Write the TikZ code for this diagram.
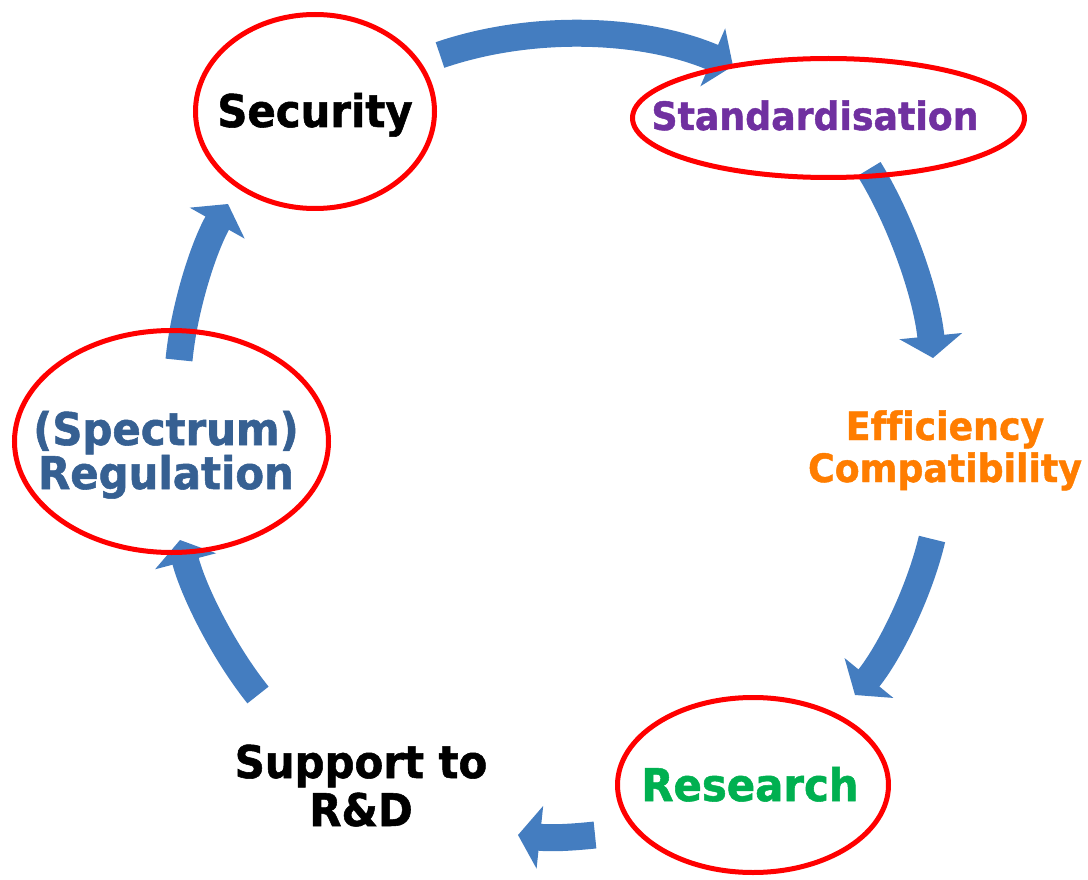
\documentclass[tikz,border=0pt]{standalone}
\usepackage{fontspec}
\setmainfont{DejaVu Sans}[FakeStretch=0.93, Ligatures=NoCommon, BoldFeatures={FakeBold=1.2}]
\usetikzlibrary{shapes.geometric, arrows.meta}

\definecolor{flowblue}{RGB}{68,125,192}
\definecolor{stdpurple}{RGB}{112,48,160}
\definecolor{efforange}{RGB}{255,125,0}
\definecolor{resgreen}{RGB}{0,176,80}
\definecolor{regblue}{RGB}{54,96,146}

\begin{document}
\begin{tikzpicture}[
        x=1pt,
        y=1pt,
        flow/.style={draw=flowblue, line width=27pt, -{Triangle[width=62pt, length=22pt]}},
        ring/.style={ellipse, draw=red, line width=5pt, inner sep=0pt},
        lbl/.style={font=\bfseries\fontsize{45}{44}\selectfont, align=center, anchor=base},
        lblsmall/.style={lbl, font=\bfseries\fontsize{39}{42}\selectfont}
    ]
    \useasboundingbox (0,0) rectangle (1088,-880);

    % arrow ends
    \coordinate (f1a) at (440,-55);
    \coordinate (f1b) at (733,-66);
    \coordinate (f2a) at (869,-169);
    \coordinate (f2b) at (933,-358);
    \coordinate (f3a) at (932,-539);
    \coordinate (f3b) at (855,-695);
    \coordinate (f4a) at (595,-835);
    \coordinate (f4b) at (518,-835);
    \coordinate (f5a) at (258,-695);
    \coordinate (f5b) at (180,-540);
    \coordinate (f6a) at (179,-360);
    \coordinate (f6b) at (228,-204);

    \draw[flow] (f1a) to[bend left=21, looseness=0.85] (f1b);
    \draw[flow] (f2a) to[bend left=13, looseness=0.8] (f2b);
    \draw[flow] (f3a) to[bend left=13, looseness=0.8] (f3b);
    \draw[flow] (f4a) to[bend left=6] (f4b);
    \draw[flow] (f5a) to[bend left=12, looseness=0.8] (f5b);
    \draw[flow] (f6a) to[bend left=12, looseness=0.8] (f6b);

    % rings
    \node[ring, minimum width=239pt, minimum height=194pt] (secring) at (315,-111.5) {};
    \node[ring, minimum width=392pt, minimum height=119pt] (stdring) at (828.5,-118) {};
    \node[ring, minimum width=314pt, minimum height=222pt] (regring) at (171.5,-441.5) {};
    \node[ring, minimum width=271pt, minimum height=175pt] (resring) at (753,-785) {};

    % labels
    \node[lbl] (sec) at (315,-127) {Security};
    \node[lblsmall, text=stdpurple] (std) at (815,-130) {Standardisation};
    \node[lblsmall, text=efforange] (eff) at (945,-482) {Efficiency\\Compatibility};
    \node[lbl, text=resgreen] (res) at (750,-801) {Research};
    \node[lbl, font=\bfseries\fontsize{45}{48}\selectfont] (sup) at (361,-826) {Support to\\R\&D};
    \node[lbl, text=regblue] (reg) at (166,-489) {(Spectrum)\\Regulation};
\end{tikzpicture}
\end{document}
